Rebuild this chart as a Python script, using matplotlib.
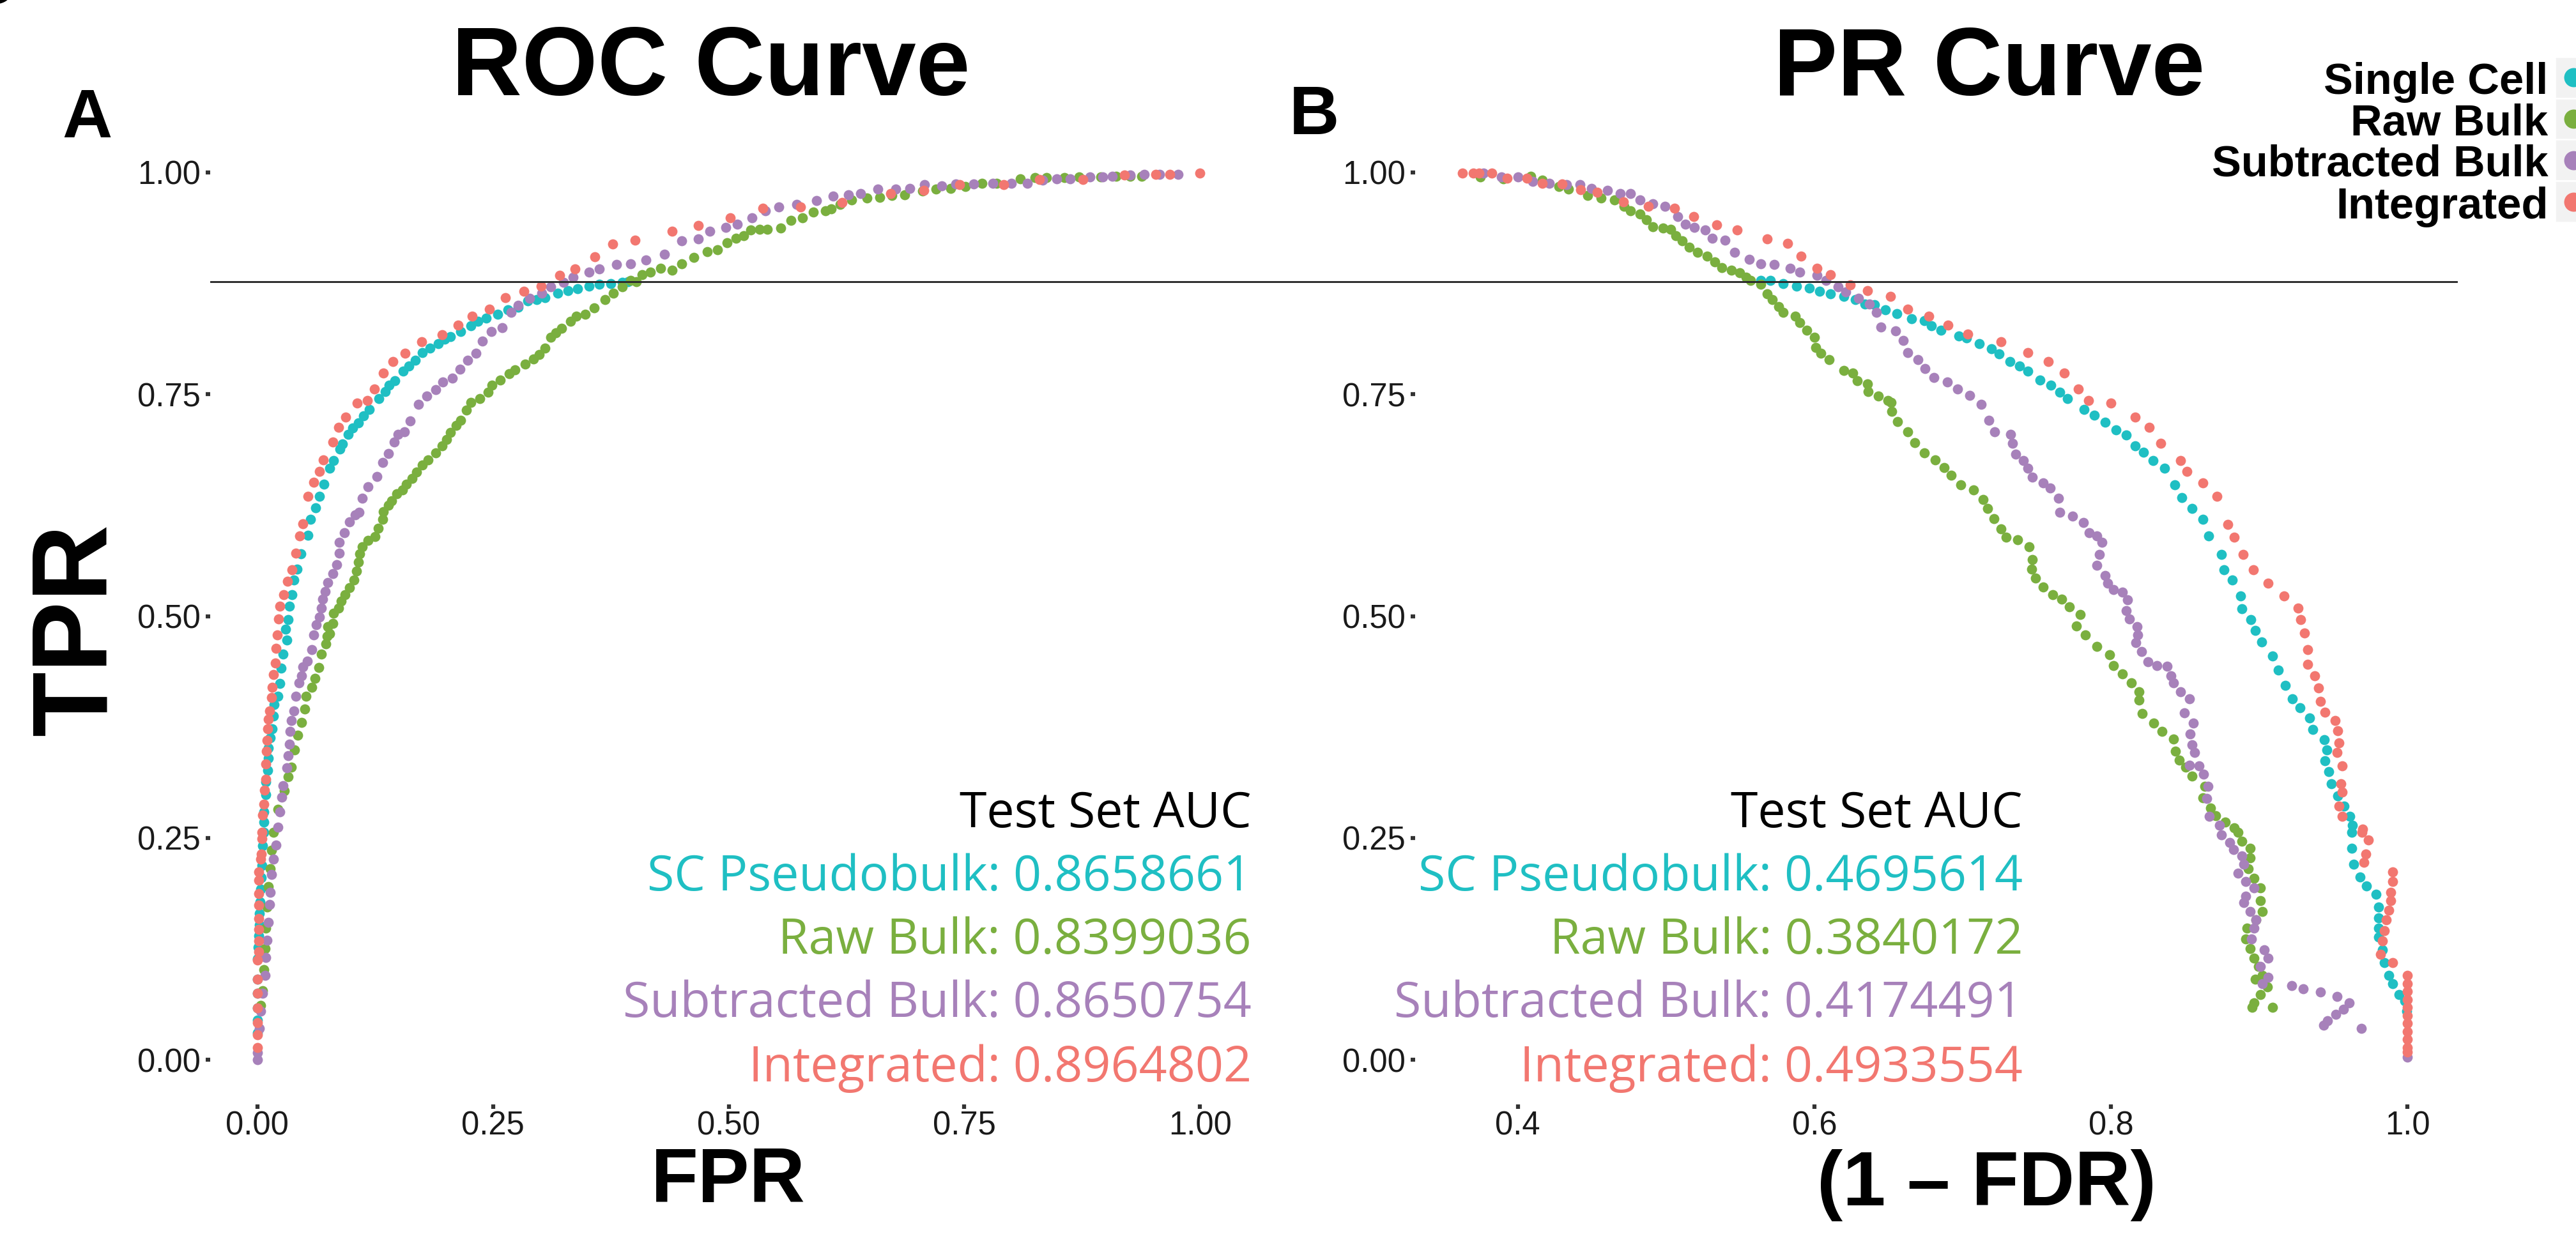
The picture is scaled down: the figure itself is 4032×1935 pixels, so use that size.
import matplotlib
matplotlib.use('agg')
import matplotlib.pyplot as plt
from matplotlib.patches import Rectangle
from matplotlib.lines import Line2D

# series colours (ggplot-like hues as seen in the figure)
sc_col = '#1FBFC3'
raw_col = '#7AAF3F'
sub_col = '#A781BA'
int_col = '#F27770'

series_names = ['Single Cell', 'Raw Bulk', 'Subtracted Bulk', 'Integrated']
auc_names = ['SC Pseudobulk', 'Raw Bulk', 'Subtracted Bulk', 'Integrated']
auc_roc = ['0.8658661', '0.8399036', '0.8650754', '0.8964802']
auc_pr = ['0.4695614', '0.3840172', '0.4174491', '0.4933554']

tpr_ticks = [0, 0.25, 0.5, 0.75, 1.0]
tpr_ticklabels = ['0.00', '0.25', '0.50', '0.75', '1.00']
fpr_ticks = [0, 0.25, 0.5, 0.75, 1.0]
fpr_ticklabels = ['0.00', '0.25', '0.50', '0.75', '1.00']
prec_ticks = [0.4, 0.6, 0.8, 1.0]
prec_ticklabels = ['0.4', '0.6', '0.8', '1.0']

tpr_cut = 0.877

# ---- ROC points (fpr, tpr) ----
roc_sc = [(0.0, 0.03), (0.0, 0.045), (0.0, 0.058), (0.0, 0.075), (0.0, 0.091), (0.0002, 0.114), (0.0008, 0.127),
          (0.0014, 0.140), (0.002, 0.152), (0.0025, 0.165), (0.003, 0.178), (0.0036, 0.192), (0.0042, 0.205),
          (0.0047, 0.219), (0.0059, 0.241), (0.007, 0.256), (0.007, 0.268), (0.007, 0.279), (0.0088, 0.299),
          (0.0093, 0.313), (0.011, 0.326), (0.0115, 0.340), (0.012, 0.351), (0.0138, 0.363), (0.016, 0.373),
          (0.0172, 0.387), (0.018, 0.400), (0.0217, 0.410), (0.024, 0.424), (0.025, 0.441), (0.027, 0.457),
          (0.031, 0.473), (0.0298, 0.485), (0.033, 0.496), (0.034, 0.511), (0.037, 0.524), (0.039, 0.541),
          (0.042, 0.553), (0.046, 0.570), (0.054, 0.591), (0.0565, 0.609), (0.0616, 0.622), (0.066, 0.635),
          (0.0707, 0.649), (0.0767, 0.667), (0.081, 0.675), (0.0873, 0.688), (0.0903, 0.694), (0.0964, 0.705),
          (0.101, 0.712), (0.107, 0.718), (0.113, 0.726), (0.119, 0.733), (0.129, 0.745), (0.136, 0.753),
          (0.140, 0.760), (0.146, 0.765), (0.155, 0.776), (0.161, 0.782), (0.1675, 0.788), (0.175, 0.797),
          (0.183, 0.802), (0.192, 0.807), (0.199, 0.812), (0.205, 0.815), (0.216, 0.821), (0.2265, 0.827),
          (0.234, 0.832), (0.243, 0.836), (0.255, 0.840), (0.266, 0.845), (0.2765, 0.848), (0.287, 0.855),
          (0.296, 0.857), (0.305, 0.859), (0.319, 0.864), (0.3295, 0.867), (0.340, 0.869), (0.352, 0.872),
          (0.363, 0.874), (0.375, 0.875), (0.387, 0.876), (0.393, 0.877)]

roc_raw = [(0.0036, 0.061), (0.0059, 0.078), (0.007, 0.1015), (0.008, 0.125), (0.0093, 0.1485), (0.0104, 0.172),
           (0.0115, 0.195), (0.0138, 0.2155), (0.015, 0.236), (0.017, 0.256), (0.0217, 0.2825), (0.0285, 0.303),
           (0.033, 0.319), (0.0364, 0.3295), (0.0398, 0.3495), (0.043, 0.366), (0.0466, 0.380), (0.050, 0.395),
           (0.052, 0.410), (0.058, 0.420), (0.061, 0.430), (0.065, 0.442), (0.068, 0.457), (0.0725, 0.4685),
           (0.0737, 0.477), (0.077, 0.480), (0.075, 0.488), (0.080, 0.492), (0.081, 0.503), (0.086, 0.509),
           (0.089, 0.517), (0.093, 0.524), (0.098, 0.532), (0.1025, 0.541), (0.1055, 0.551), (0.107, 0.5605),
           (0.1085, 0.570), (0.1115, 0.578), (0.1175, 0.585), (0.125, 0.5895), (0.128, 0.599), (0.1327, 0.609),
           (0.134, 0.618), (0.139, 0.625), (0.1425, 0.630), (0.148, 0.638), (0.154, 0.6425), (0.158, 0.649),
           (0.164, 0.655), (0.169, 0.662), (0.175, 0.670), (0.181, 0.676), (0.189, 0.684), (0.196, 0.692),
           (0.201, 0.699), (0.205, 0.707), (0.211, 0.715), (0.216, 0.721), (0.222, 0.7325), (0.2265, 0.7405),
           (0.236, 0.745), (0.245, 0.752), (0.249, 0.760), (0.258, 0.766), (0.267, 0.773), (0.273, 0.7775),
           (0.284, 0.784), (0.293, 0.790), (0.299, 0.795), (0.305, 0.802), (0.311, 0.814), (0.317, 0.819),
           (0.323, 0.824), (0.3325, 0.832), (0.3385, 0.838), (0.3476, 0.840), (0.357, 0.847), (0.369, 0.857),
           (0.378, 0.864), (0.387, 0.871), (0.396, 0.878), (0.402, 0.877), (0.408, 0.885), (0.417, 0.888),
           (0.428, 0.892), (0.440, 0.890), (0.4505, 0.897), (0.463, 0.904), (0.477, 0.911), (0.488, 0.913),
           (0.498, 0.921), (0.508, 0.926), (0.516, 0.929), (0.5235, 0.935), (0.533, 0.936), (0.541, 0.936),
           (0.555, 0.937), (0.566, 0.946), (0.578, 0.949), (0.590, 0.955), (0.603, 0.957), (0.609, 0.959),
           (0.618, 0.964), (0.6305, 0.969), (0.647, 0.971), (0.660, 0.972), (0.673, 0.974), (0.687, 0.975),
           (0.706, 0.979), (0.720, 0.981), (0.7355, 0.982), (0.751, 0.984), (0.7686, 0.988), (0.784, 0.988),
           (0.8095, 0.993), (0.825, 0.994), (0.837, 0.994), (0.856, 0.994), (0.872, 0.995), (0.895, 0.995),
           (0.911, 0.996), (0.926, 0.996), (0.938, 0.996)]

roc_sub = [(0.0, 0.0), (0.0, 0.008), (0.0025, 0.035), (0.0036, 0.055), (0.0059, 0.075), (0.008, 0.095),
           (0.0093, 0.115), (0.0104, 0.135), (0.0115, 0.155), (0.0127, 0.175), (0.0138, 0.189), (0.015, 0.209),
           (0.0172, 0.226), (0.0195, 0.242), (0.0217, 0.262), (0.024, 0.279), (0.026, 0.296), (0.027, 0.309),
           (0.031, 0.329), (0.033, 0.343), (0.034, 0.356), (0.035, 0.370), (0.0364, 0.382), (0.0386, 0.393),
           (0.041, 0.410), (0.044, 0.425), (0.0466, 0.433), (0.048, 0.443), (0.053, 0.449), (0.058, 0.462),
           (0.060, 0.479), (0.0625, 0.490), (0.0658, 0.499), (0.068, 0.509), (0.069, 0.519), (0.072, 0.528),
           (0.075, 0.538), (0.080, 0.548), (0.084, 0.558), (0.0867, 0.571), (0.087, 0.583), (0.092, 0.594),
           (0.098, 0.606), (0.104, 0.614), (0.108, 0.617), (0.1115, 0.633), (0.1175, 0.646), (0.127, 0.657),
           (0.133, 0.673), (0.139, 0.683), (0.145, 0.696), (0.149, 0.705), (0.156, 0.708), (0.162, 0.720),
           (0.171, 0.739), (0.1796, 0.748), (0.189, 0.755), (0.197, 0.764), (0.207, 0.768), (0.215, 0.778),
           (0.223, 0.788), (0.232, 0.796), (0.239, 0.810), (0.248, 0.821), (0.260, 0.825), (0.269, 0.842),
           (0.2765, 0.850), (0.2886, 0.858), (0.302, 0.864), (0.311, 0.871), (0.325, 0.876), (0.335, 0.882),
           (0.352, 0.888), (0.363, 0.891), (0.381, 0.896), (0.396, 0.897), (0.412, 0.901), (0.432, 0.908),
           (0.4505, 0.923), (0.468, 0.925), (0.480, 0.934), (0.497, 0.938), (0.509, 0.942), (0.525, 0.949),
           (0.539, 0.957), (0.553, 0.961), (0.572, 0.964), (0.5935, 0.968), (0.611, 0.973), (0.627, 0.975),
           (0.640, 0.976), (0.658, 0.981), (0.677, 0.981), (0.692, 0.982), (0.708, 0.986), (0.726, 0.985),
           (0.741, 0.987), (0.760, 0.987), (0.780, 0.988), (0.800, 0.988), (0.817, 0.988), (0.833, 0.991),
           (0.848, 0.993), (0.862, 0.993), (0.883, 0.995), (0.897, 0.995), (0.907, 0.996), (0.926, 0.997),
           (0.941, 0.998), (0.957, 0.998), (0.977, 0.998)]

roc_int = [(0.0, 0.014), (0.0, 0.028), (0.0, 0.042), (0.0, 0.058), (0.0, 0.075), (0.0, 0.091), (0.0002, 0.112),
           (0.0014, 0.122), (0.0014, 0.134), (0.0014, 0.147), (0.0014, 0.159), (0.0014, 0.174), (0.0014, 0.187),
           (0.0014, 0.202), (0.0014, 0.212), (0.0036, 0.226), (0.0043, 0.232), (0.0047, 0.249), (0.0047, 0.256),
           (0.0059, 0.276), (0.007, 0.288), (0.0077, 0.304), (0.0093, 0.316), (0.0088, 0.333), (0.0097, 0.348),
           (0.0104, 0.360), (0.011, 0.373), (0.0115, 0.384), (0.0127, 0.393), (0.0149, 0.408), (0.0156, 0.420),
           (0.0172, 0.434), (0.0188, 0.447), (0.0199, 0.464), (0.021, 0.479), (0.0228, 0.497), (0.024, 0.511),
           (0.0277, 0.524), (0.032, 0.539), (0.0367, 0.552), (0.041, 0.571), (0.045, 0.590), (0.048, 0.604),
           (0.054, 0.635), (0.060, 0.651), (0.066, 0.663), (0.070, 0.676), (0.080, 0.696), (0.086, 0.713),
           (0.094, 0.724), (0.106, 0.740), (0.117, 0.743), (0.124, 0.756), (0.134, 0.774), (0.144, 0.787),
           (0.157, 0.796), (0.1745, 0.809), (0.196, 0.817), (0.213, 0.828), (0.228, 0.838), (0.246, 0.846),
           (0.263, 0.859), (0.283, 0.866), (0.301, 0.872), (0.321, 0.884), (0.337, 0.891), (0.358, 0.905),
           (0.377, 0.919), (0.401, 0.924), (0.440, 0.934), (0.468, 0.940), (0.502, 0.949), (0.536, 0.960),
           (0.576, 0.961), (0.620, 0.966), (0.672, 0.976), (0.707, 0.980), (0.745, 0.986), (0.792, 0.986),
           (0.830, 0.992), (0.876, 0.992), (0.920, 0.997), (0.953, 0.998), (0.968, 0.998), (1.0, 0.999)]

# ---- PR points (1 - FDR, TPR) ----
pr_sc = [(0.5638, 0.878), (0.5704, 0.878), (0.579, 0.875), (0.588, 0.872), (0.5968, 0.870), (0.6034, 0.866),
         (0.611, 0.863), (0.620, 0.860), (0.6276, 0.857), (0.634, 0.852), (0.6407, 0.8506), (0.648, 0.845),
         (0.6556, 0.841), (0.6654, 0.835), (0.6741, 0.833), (0.679, 0.827), (0.6853, 0.822), (0.6976, 0.816),
         (0.7026, 0.8134), (0.7112, 0.807), (0.7194, 0.801), (0.7248, 0.7956), (0.7318, 0.787), (0.7384, 0.782),
         (0.744, 0.776), (0.752, 0.766), (0.7595, 0.760), (0.7656, 0.7526), (0.7706, 0.745), (0.7818, 0.733),
         (0.7887, 0.7266), (0.7961, 0.7184), (0.8035, 0.710), (0.8102, 0.704), (0.8164, 0.692), (0.822, 0.685),
         (0.8283, 0.675), (0.8362, 0.667), (0.8431, 0.648), (0.848, 0.6336), (0.8547, 0.621), (0.862, 0.609),
         (0.8658, 0.590), (0.8745, 0.5695), (0.8763, 0.552), (0.8819, 0.5407), (0.8874, 0.523), (0.8886, 0.508),
         (0.8943, 0.496), (0.8975, 0.484), (0.9017, 0.471), (0.9092, 0.455), (0.9129, 0.439), (0.9178, 0.422),
         (0.9223, 0.407), (0.9278, 0.397), (0.934, 0.385), (0.9364, 0.372), (0.9438, 0.361), (0.9456, 0.349),
         (0.9446, 0.337), (0.947, 0.3245), (0.9487, 0.311), (0.953, 0.297), (0.9574, 0.286), (0.9611, 0.274),
         (0.9629, 0.264), (0.9626, 0.256), (0.9626, 0.2386), (0.964, 0.220), (0.968, 0.2057), (0.9723, 0.196),
         (0.9791, 0.1865), (0.9805, 0.172), (0.9805, 0.160), (0.9805, 0.148), (0.9805, 0.138), (0.9832, 0.124),
         (0.9846, 0.1096), (0.9873, 0.0952), (0.9901, 0.0857), (0.9942, 0.0737), (0.9983, 0.0665), (0.9995, 0.0545)]

pr_raw = [(0.3747, 0.995), (0.390, 0.993), (0.4088, 0.996), (0.4165, 0.9915), (0.4275, 0.984), (0.434, 0.981),
          (0.447, 0.974), (0.456, 0.971), (0.465, 0.969), (0.4715, 0.962), (0.476, 0.957), (0.4825, 0.953),
          (0.4869, 0.947), (0.491, 0.9388), (0.498, 0.9376), (0.503, 0.936), (0.5067, 0.929), (0.511, 0.923),
          (0.5155, 0.916), (0.521, 0.910), (0.5275, 0.906), (0.533, 0.899), (0.5375, 0.893), (0.544, 0.890),
          (0.5495, 0.887), (0.554, 0.882), (0.557, 0.878), (0.5638, 0.874), (0.568, 0.863), (0.5716, 0.857),
          (0.576, 0.849), (0.579, 0.842), (0.587, 0.838), (0.590, 0.831), (0.5947, 0.822), (0.600, 0.814),
          (0.601, 0.803), (0.6045, 0.796), (0.610, 0.789), (0.620, 0.777), (0.6259, 0.774), (0.629, 0.765),
          (0.6358, 0.762), (0.6364, 0.753), (0.643, 0.748), (0.6496, 0.743), (0.6519, 0.741), (0.652, 0.731),
          (0.656, 0.719), (0.663, 0.708), (0.6679, 0.6956), (0.6741, 0.684), (0.6816, 0.676), (0.6877, 0.6675),
          (0.6922, 0.6585), (0.6988, 0.648), (0.7075, 0.642), (0.7137, 0.6316), (0.717, 0.621), (0.7211, 0.6096),
          (0.726, 0.5985), (0.7293, 0.589), (0.7372, 0.586), (0.7447, 0.578), (0.7471, 0.5634), (0.7466, 0.553),
          (0.7491, 0.5427), (0.7545, 0.5324), (0.7607, 0.524), (0.767, 0.519), (0.772, 0.5105), (0.7793, 0.502),
          (0.7768, 0.489), (0.783, 0.4786), (0.7904, 0.466), (0.7991, 0.4567), (0.8016, 0.444), (0.8077, 0.435),
          (0.8139, 0.425), (0.8189, 0.415), (0.8189, 0.4055), (0.8213, 0.390), (0.8287, 0.3795), (0.8344, 0.370),
          (0.8424, 0.3617), (0.8436, 0.348), (0.8461, 0.338), (0.8505, 0.33), (0.8547, 0.3195), (0.8634, 0.308),
          (0.8622, 0.2955), (0.8671, 0.284), (0.8708, 0.275), (0.877, 0.268), (0.8832, 0.2617), (0.8856, 0.256),
          (0.8883, 0.2465), (0.8939, 0.238), (0.8939, 0.2273), (0.8925, 0.215), (0.8966, 0.2045), (0.9008, 0.1937),
          (0.9008, 0.179), (0.902, 0.167), (0.898, 0.1577), (0.8919, 0.148), (0.891, 0.136), (0.8939, 0.125),
          (0.8966, 0.1145), (0.8994, 0.105), (0.902, 0.0952), (0.8975, 0.0905), (0.9057, 0.082), (0.9008, 0.0737),
          (0.8966, 0.064), (0.8953, 0.059), (0.909, 0.059)]

pr_sub = [(0.377, 0.999), (0.389, 0.995), (0.400, 0.995), (0.410, 0.990), (0.421, 0.988), (0.433, 0.986),
          (0.4418, 0.986), (0.4495, 0.982), (0.4605, 0.980), (0.469, 0.976), (0.476, 0.976), (0.4825, 0.969),
          (0.491, 0.965), (0.499, 0.962), (0.508, 0.950), (0.513, 0.942), (0.519, 0.938), (0.5265, 0.935),
          (0.531, 0.926), (0.5397, 0.924), (0.546, 0.910), (0.556, 0.902), (0.5638, 0.897), (0.573, 0.896),
          (0.5836, 0.892), (0.590, 0.888), (0.6017, 0.884), (0.608, 0.878), (0.616, 0.871), (0.621, 0.865),
          (0.630, 0.858), (0.637, 0.852), (0.642, 0.842), (0.645, 0.826), (0.655, 0.8217), (0.660, 0.8105),
          (0.663, 0.797), (0.670, 0.789), (0.6748, 0.779), (0.6808, 0.769), (0.6897, 0.764), (0.6964, 0.7556),
          (0.7046, 0.7485), (0.7124, 0.739), (0.7179, 0.7205), (0.7216, 0.708), (0.7322, 0.7048), (0.7335, 0.695),
          (0.736, 0.6825), (0.7409, 0.675), (0.7441, 0.667), (0.7471, 0.6564), (0.7545, 0.650), (0.759, 0.644),
          (0.7649, 0.633), (0.7656, 0.617), (0.7743, 0.613), (0.7813, 0.6055), (0.7855, 0.594), (0.7904, 0.590),
          (0.7942, 0.583), (0.7922, 0.5695), (0.7904, 0.557), (0.7961, 0.546), (0.7978, 0.537), (0.8016, 0.530),
          (0.8077, 0.527), (0.8114, 0.518), (0.8102, 0.506), (0.8127, 0.497), (0.8176, 0.488), (0.8183, 0.4786),
          (0.8169, 0.4704), (0.8209, 0.460), (0.825, 0.4485), (0.8312, 0.444), (0.8381, 0.4435), (0.8406, 0.433),
          (0.8424, 0.425), (0.8468, 0.4146), (0.853, 0.407), (0.8498, 0.3906), (0.8555, 0.3795), (0.8535, 0.367),
          (0.8547, 0.3546), (0.8564, 0.3464), (0.853, 0.332), (0.8597, 0.331), (0.8627, 0.3216), (0.8654, 0.308),
          (0.8647, 0.2948), (0.8664, 0.274), (0.8733, 0.264), (0.8746, 0.2536), (0.8801, 0.245), (0.8829, 0.2369),
          (0.8884, 0.2297), (0.8898, 0.220), (0.8856, 0.2104), (0.8911, 0.2009), (0.8966, 0.1937), (0.8911, 0.184),
          (0.8898, 0.1769), (0.8939, 0.167), (0.898, 0.1577), (0.8966, 0.148), (0.8947, 0.136), (0.9035, 0.124),
          (0.9062, 0.1145), (0.9008, 0.105), (0.9062, 0.093), (0.902, 0.0857), (0.9222, 0.0837), (0.9296, 0.0797),
          (0.9414, 0.0761), (0.9524, 0.0713), (0.9607, 0.064), (0.9571, 0.0569), (0.9516, 0.051), (0.9461, 0.0437),
          (0.9434, 0.0389), (0.9689, 0.0353), (1.0, 0.003)]

pr_int = [(0.3626, 0.999), (0.370, 0.999), (0.374, 0.999), (0.3824, 0.999), (0.3928, 0.9933), (0.406, 0.9933),
          (0.4165, 0.9875), (0.430, 0.9868), (0.4425, 0.9808), (0.4534, 0.978), (0.471, 0.967), (0.488, 0.962),
          (0.5056, 0.960), (0.5187, 0.950), (0.534, 0.941), (0.548, 0.935), (0.568, 0.925), (0.582, 0.920),
          (0.591, 0.906), (0.6017, 0.892), (0.611, 0.885), (0.624, 0.873), (0.636, 0.867), (0.6513, 0.860),
          (0.663, 0.846), (0.677, 0.838), (0.690, 0.828), (0.7037, 0.818), (0.726, 0.809), (0.744, 0.797),
          (0.758, 0.787), (0.7686, 0.774), (0.778, 0.7556), (0.785, 0.743), (0.800, 0.740), (0.8164, 0.7245),
          (0.826, 0.713), (0.8337, 0.695), (0.847, 0.675), (0.8515, 0.663), (0.862, 0.650), (0.8716, 0.635),
          (0.8787, 0.603), (0.883, 0.589), (0.8894, 0.5695), (0.8963, 0.552), (0.906, 0.537), (0.917, 0.523),
          (0.9265, 0.509), (0.928, 0.496), (0.9307, 0.481), (0.9327, 0.462), (0.9327, 0.446), (0.9376, 0.433),
          (0.940, 0.419), (0.9413, 0.404), (0.9446, 0.392), (0.9513, 0.382), (0.953, 0.371), (0.9537, 0.357),
          (0.9525, 0.346), (0.9562, 0.331), (0.955, 0.311), (0.956, 0.302), (0.9537, 0.286), (0.956, 0.274),
          (0.9698, 0.2596), (0.9695, 0.256), (0.9736, 0.2477), (0.9722, 0.232), (0.9709, 0.2225), (0.9901, 0.2117),
          (0.9901, 0.2009), (0.9887, 0.189), (0.9887, 0.179), (0.9873, 0.1685), (0.986, 0.1577), (0.9846, 0.1457),
          (0.9832, 0.1337), (0.9819, 0.119), (0.9901, 0.1096), (1.0, 0.0952), (1.0, 0.086), (1.0, 0.077),
          (1.0, 0.068), (1.0, 0.059), (1.0, 0.050), (1.0, 0.041), (1.0, 0.032), (1.0, 0.023), (1.0, 0.014),
          (1.0, 0.009)]

colours = [sc_col, raw_col, sub_col, int_col]
W, H = 4032, 1935


def fx(px):
    return px / W


def fy(py):
    return 1 - py / H


fig = plt.figure(figsize=(W / 300, H / 300), dpi=300)
ax1 = fig.add_axes([fx(329), fy(1728.5), (1952 - 329) / W, 1528 / H])
ax2 = fig.add_axes([fx(2215), fy(1728.5), (3842 - 2215) / W, 1528 / H])

for ax, series in [(ax1, [roc_sc, roc_raw, roc_sub, roc_int]), (ax2, [pr_sc, pr_raw, pr_sub, pr_int])]:
    for pts, col in zip(series, colours):
        xs = [p[0] for p in pts]
        ys = [p[1] for p in pts]
        ax.plot(xs, ys, 'o', ms=3.8, color=col, mec='none', clip_on=False)
    for s in ax.spines.values():
        s.set_visible(False)
    ax.set_ylim(-0.05, 1.05)
    ax.set_yticks(tpr_ticks)
    ax.set_yticklabels(tpr_ticklabels)
    ax.tick_params(axis='both', length=1.7, width=1.5, color='#333333', labelsize=12.2,
                   labelcolor='#1a1a1a')
    ax.tick_params(axis='y', pad=2.0)
    ax.tick_params(axis='x', pad=0.8)
    for lab in ax.get_xticklabels() + ax.get_yticklabels():
        lab.set_family('Liberation Sans')

ax1.set_xlim(-0.05, 1.05)
ax1.set_xticks(fpr_ticks)
ax1.set_xticklabels(fpr_ticklabels, family='Liberation Sans')
ax2.set_xlim(0.3307, 1.0319)
ax2.set_xticks(prec_ticks)
ax2.set_xticklabels(prec_ticklabels, family='Liberation Sans')

# horizontal cut line running across both panels
y_disp = ax1.transData.transform((0, tpr_cut))[1]
y_fig = fig.transFigure.inverted().transform((0, y_disp))[1]
fig.add_artist(Line2D([fx(330), fx(3845)], [y_fig, y_fig], color='#2b2b2b', lw=0.7,
                      transform=fig.transFigure))

bold = dict(family='Liberation Sans', weight='bold', color='black')
fig.text(fx(1113), fy(110), 'ROC Curve', ha='center', va='center', fontsize=36.5, **bold)
fig.text(fx(3114), fy(110), 'PR Curve', ha='center', va='center', fontsize=36, **bold)
fig.text(fx(136), fy(187), 'A', ha='center', va='center', fontsize=26, **bold)
fig.text(fx(2057), fy(182), 'B', ha='center', va='center', fontsize=26, **bold)
# clipped panel letter peeking in at the top-left corner, as in the original
fig.text(fx(-14), fy(-22), 'S', ha='center', va='center', fontsize=26, **bold)
fig.text(fx(123), fy(985), 'TPR', ha='center', va='center', rotation=90, fontsize=40, **bold)
fig.text(fx(1140), fy(1851), 'FPR', ha='center', va='center', fontsize=29, **bold)
fig.text(fx(3109), fy(1855), '(1 \u2013 FDR)', ha='center', va='center', fontsize=29, **bold)

# AUC annotations
base_rows = [1295, 1394, 1493, 1592, 1693]
for right, vals in [(1959, auc_roc), (3166, auc_pr)]:
    fig.text(fx(right), fy(base_rows[0]), 'Test Set AUC', ha='right', va='baseline',
             fontsize=18.5, family='Open Sans', color='black')
    for i in range(4):
        fig.text(fx(right), fy(base_rows[i + 1]), '%s: %s' % (auc_names[i], vals[i]), ha='right',
                 va='baseline', fontsize=18.5, family='Open Sans', color=colours[i])

# legend (cut off at the right edge like the original)
leg_base = [147, 212, 275, 342]
key_top = 89
key_h = 64.75
for i in range(4):
    fig.text(fx(3988.6), fy(leg_base[i]), series_names[i], ha='right', va='baseline',
             fontsize=16.5, **bold)
    top = key_top + i * key_h
    fig.add_artist(Rectangle((fx(3999), fy(top + key_h)), 0.01, key_h / H, transform=fig.transFigure,
                             facecolor='#F2F2F2', edgecolor='white', lw=0.6))
    fig.add_artist(Line2D([fx(4027.7)], [fy(top + key_h / 2)], marker='o', ms=7.2, color=colours[i],
                          mec='none', transform=fig.transFigure))

fig.savefig('out.png', dpi=300)
